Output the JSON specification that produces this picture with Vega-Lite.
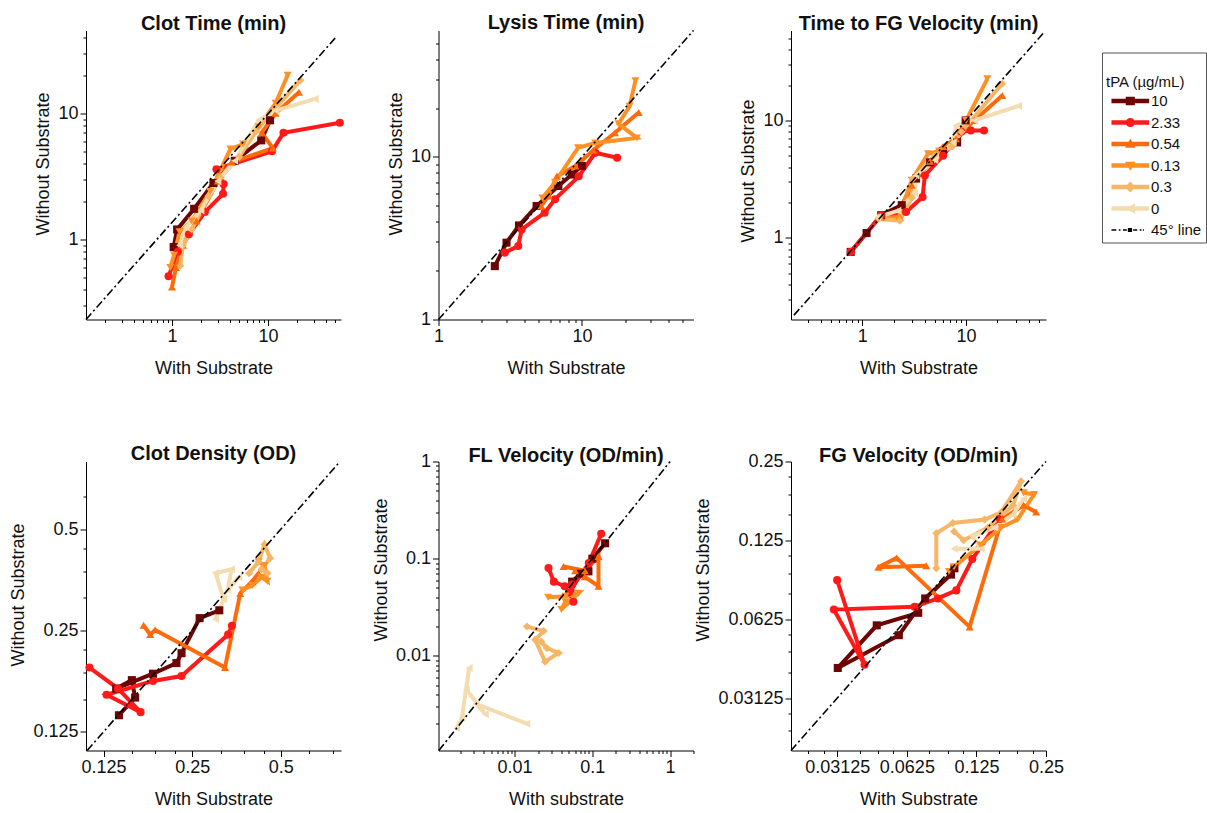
{
"$schema":"https://vega.github.io/schema/vega-lite/v6.json",
"padding":{"left":9,"top":12.5,"right":0,"bottom":2},
"datasets":{"d":[
{"p":1,"g":"10","i":0,"x":1.04,"y":0.87},{"p":1,"g":"10","i":1,"x":1.13,"y":1.2},{"p":1,"g":"10","i":2,"x":1.7,"y":1.75},{"p":1,"g":"10","i":3,"x":2.7,"y":2.8},{"p":1,"g":"10","i":4,"x":4.5,"y":4.2},{"p":1,"g":"10","i":5,"x":8.5,"y":6.1},{"p":1,"g":"10","i":6,"x":10.5,"y":8.8},
{"p":1,"g":"2.33","i":0,"x":0.92,"y":0.51},{"p":1,"g":"2.33","i":1,"x":1.15,"y":0.8},{"p":1,"g":"2.33","i":2,"x":1.5,"y":1.1},{"p":1,"g":"2.33","i":3,"x":2.2,"y":1.65},{"p":1,"g":"2.33","i":4,"x":3.4,"y":2.3},{"p":1,"g":"2.33","i":5,"x":3.45,"y":2.75},{"p":1,"g":"2.33","i":6,"x":2.9,"y":3.6},{"p":1,"g":"2.33","i":7,"x":11,"y":5.0},{"p":1,"g":"2.33","i":8,"x":14.5,"y":7.0},{"p":1,"g":"2.33","i":9,"x":56,"y":8.4},
{"p":1,"g":"0.54","i":0,"x":1.0,"y":0.42},{"p":1,"g":"0.54","i":1,"x":1.1,"y":0.6},{"p":1,"g":"0.54","i":2,"x":1.3,"y":0.9},{"p":1,"g":"0.54","i":3,"x":1.8,"y":1.4},{"p":1,"g":"0.54","i":4,"x":3.0,"y":2.9},{"p":1,"g":"0.54","i":5,"x":4.2,"y":4.1},{"p":1,"g":"0.54","i":6,"x":11.2,"y":5.3},{"p":1,"g":"0.54","i":7,"x":8.6,"y":7.0},{"p":1,"g":"0.54","i":8,"x":12,"y":10},{"p":1,"g":"0.54","i":9,"x":21,"y":14.7},
{"p":1,"g":"0.13","i":0,"x":0.96,"y":0.6},{"p":1,"g":"0.13","i":1,"x":1.05,"y":0.75},{"p":1,"g":"0.13","i":2,"x":1.2,"y":1.15},{"p":1,"g":"0.13","i":3,"x":1.6,"y":1.4},{"p":1,"g":"0.13","i":4,"x":2.5,"y":2.4},{"p":1,"g":"0.13","i":5,"x":4.05,"y":5.2},{"p":1,"g":"0.13","i":6,"x":5.5,"y":5.7},{"p":1,"g":"0.13","i":7,"x":8,"y":7.8},{"p":1,"g":"0.13","i":8,"x":12,"y":12},{"p":1,"g":"0.13","i":9,"x":16,"y":20},
{"p":1,"g":"0.3","i":0,"x":1.22,"y":0.62},{"p":1,"g":"0.3","i":1,"x":1.3,"y":0.9},{"p":1,"g":"0.3","i":2,"x":1.6,"y":1.2},{"p":1,"g":"0.3","i":3,"x":2.4,"y":2.2},{"p":1,"g":"0.3","i":4,"x":3.2,"y":3.1},{"p":1,"g":"0.3","i":5,"x":5,"y":4.5},{"p":1,"g":"0.3","i":6,"x":7.5,"y":7.2},{"p":1,"g":"0.3","i":7,"x":12,"y":11},{"p":1,"g":"0.3","i":8,"x":21.8,"y":18.3},
{"p":1,"g":"0","i":0,"x":1.2,"y":0.9},{"p":1,"g":"0","i":1,"x":1.4,"y":1.25},{"p":1,"g":"0","i":2,"x":2.0,"y":1.7},{"p":1,"g":"0","i":3,"x":3.0,"y":2.9},{"p":1,"g":"0","i":4,"x":4.5,"y":4.2},{"p":1,"g":"0","i":5,"x":8,"y":8.8},{"p":1,"g":"0","i":6,"x":12,"y":10.5},{"p":1,"g":"0","i":7,"x":31,"y":13},
{"p":1,"g":"45° line","i":0,"x":0.127,"y":0.232},{"p":1,"g":"45° line","i":1,"x":50,"y":39.4},
{"p":2,"g":"10","i":0,"x":2.47,"y":2.13},{"p":2,"g":"10","i":1,"x":2.98,"y":2.97},{"p":2,"g":"10","i":2,"x":3.64,"y":3.79},{"p":2,"g":"10","i":3,"x":4.83,"y":4.99},{"p":2,"g":"10","i":4,"x":6.85,"y":6.63},{"p":2,"g":"10","i":5,"x":8.5,"y":7.8},{"p":2,"g":"10","i":6,"x":10,"y":8.8},
{"p":2,"g":"2.33","i":0,"x":2.9,"y":2.58},{"p":2,"g":"2.33","i":1,"x":3.6,"y":2.83},{"p":2,"g":"2.33","i":2,"x":3.8,"y":3.58},{"p":2,"g":"2.33","i":3,"x":5.5,"y":4.54},{"p":2,"g":"2.33","i":4,"x":6.5,"y":5.5},{"p":2,"g":"2.33","i":5,"x":9.5,"y":7.6},{"p":2,"g":"2.33","i":6,"x":12.4,"y":10.6},{"p":2,"g":"2.33","i":7,"x":17.6,"y":9.9},
{"p":2,"g":"0.54","i":0,"x":5.2,"y":5.0},{"p":2,"g":"0.54","i":1,"x":5.84,"y":5.76},{"p":2,"g":"0.54","i":2,"x":6.7,"y":7.6},{"p":2,"g":"0.54","i":3,"x":9,"y":8.8},{"p":2,"g":"0.54","i":4,"x":12,"y":11},{"p":2,"g":"0.54","i":5,"x":17,"y":14.1},{"p":2,"g":"0.54","i":6,"x":24.9,"y":18.8},
{"p":2,"g":"0.13","i":0,"x":5.3,"y":5.6},{"p":2,"g":"0.13","i":1,"x":6.5,"y":7.0},{"p":2,"g":"0.13","i":2,"x":9.4,"y":11.4},{"p":2,"g":"0.13","i":3,"x":12.4,"y":12.2},{"p":2,"g":"0.13","i":4,"x":24.2,"y":13.1},{"p":2,"g":"0.13","i":5,"x":18,"y":16},{"p":2,"g":"0.13","i":6,"x":21.5,"y":20.5},{"p":2,"g":"0.13","i":7,"x":23.6,"y":29.4},
{"p":2,"g":"45° line","i":0,"x":1,"y":1},{"p":2,"g":"45° line","i":1,"x":60,"y":60},
{"p":3,"g":"10","i":0,"x":0.774,"y":0.76},{"p":3,"g":"10","i":1,"x":1.1,"y":1.1},{"p":3,"g":"10","i":2,"x":1.52,"y":1.56},{"p":3,"g":"10","i":3,"x":2.4,"y":1.9},{"p":3,"g":"10","i":4,"x":3.3,"y":3.2},{"p":3,"g":"10","i":5,"x":4.5,"y":4.4},{"p":3,"g":"10","i":6,"x":6,"y":5.5},{"p":3,"g":"10","i":7,"x":8.2,"y":6.5},{"p":3,"g":"10","i":8,"x":9.9,"y":10},
{"p":3,"g":"2.33","i":0,"x":0.774,"y":0.76},{"p":3,"g":"2.33","i":1,"x":1.52,"y":1.56},{"p":3,"g":"2.33","i":2,"x":2.64,"y":1.66},{"p":3,"g":"2.33","i":3,"x":3.81,"y":2.23},{"p":3,"g":"2.33","i":4,"x":4.01,"y":3.4},{"p":3,"g":"2.33","i":5,"x":6,"y":5},{"p":3,"g":"2.33","i":6,"x":9,"y":8},{"p":3,"g":"2.33","i":7,"x":11.1,"y":8.2},{"p":3,"g":"2.33","i":8,"x":14.9,"y":8.2},
{"p":3,"g":"0.54","i":0,"x":1.5,"y":1.5},{"p":3,"g":"0.54","i":1,"x":2.3,"y":1.5},{"p":3,"g":"0.54","i":2,"x":3,"y":2.8},{"p":3,"g":"0.54","i":3,"x":4.5,"y":4.5},{"p":3,"g":"0.54","i":4,"x":6,"y":6},{"p":3,"g":"0.54","i":5,"x":8,"y":7},{"p":3,"g":"0.54","i":6,"x":12,"y":10},{"p":3,"g":"0.54","i":7,"x":22.3,"y":16.3},
{"p":3,"g":"0.13","i":0,"x":1.5,"y":1.5},{"p":3,"g":"0.13","i":1,"x":2.2,"y":1.45},{"p":3,"g":"0.13","i":2,"x":3,"y":3.1},{"p":3,"g":"0.13","i":3,"x":4.3,"y":5.2},{"p":3,"g":"0.13","i":4,"x":5.5,"y":5.5},{"p":3,"g":"0.13","i":5,"x":7.5,"y":6},{"p":3,"g":"0.13","i":6,"x":10,"y":10},{"p":3,"g":"0.13","i":7,"x":16,"y":22.6},
{"p":3,"g":"0.3","i":0,"x":1.45,"y":1.45},{"p":3,"g":"0.3","i":1,"x":2.3,"y":1.4},{"p":3,"g":"0.3","i":2,"x":3,"y":2.2},{"p":3,"g":"0.3","i":3,"x":3.1,"y":3.2},{"p":3,"g":"0.3","i":4,"x":5,"y":5},{"p":3,"g":"0.3","i":5,"x":7.3,"y":6},{"p":3,"g":"0.3","i":6,"x":9,"y":8},{"p":3,"g":"0.3","i":7,"x":22.3,"y":20.5},
{"p":3,"g":"0","i":0,"x":1.4,"y":1.5},{"p":3,"g":"0","i":1,"x":2.2,"y":1.7},{"p":3,"g":"0","i":2,"x":3.2,"y":2.4},{"p":3,"g":"0","i":3,"x":3.3,"y":3.4},{"p":3,"g":"0","i":4,"x":5,"y":4.6},{"p":3,"g":"0","i":5,"x":7.5,"y":6.5},{"p":3,"g":"0","i":6,"x":8,"y":9},{"p":3,"g":"0","i":7,"x":12,"y":10},{"p":3,"g":"0","i":8,"x":32,"y":13.3},
{"p":3,"g":"45° line","i":0,"x":0.22,"y":0.22},{"p":3,"g":"45° line","i":1,"x":57,"y":57},
{"p":4,"g":"10","i":0,"x":0.141,"y":0.14},{"p":4,"g":"10","i":1,"x":0.16,"y":0.158},{"p":4,"g":"10","i":2,"x":0.156,"y":0.178},{"p":4,"g":"10","i":3,"x":0.138,"y":0.168},{"p":4,"g":"10","i":4,"x":0.184,"y":0.186},{"p":4,"g":"10","i":5,"x":0.221,"y":0.2},{"p":4,"g":"10","i":6,"x":0.23,"y":0.214},{"p":4,"g":"10","i":7,"x":0.265,"y":0.272},{"p":4,"g":"10","i":8,"x":0.309,"y":0.287},
{"p":4,"g":"2.33","i":0,"x":0.341,"y":0.258},{"p":4,"g":"2.33","i":1,"x":0.331,"y":0.243},{"p":4,"g":"2.33","i":2,"x":0.23,"y":0.183},{"p":4,"g":"2.33","i":3,"x":0.184,"y":0.177},{"p":4,"g":"2.33","i":4,"x":0.128,"y":0.161},{"p":4,"g":"2.33","i":5,"x":0.167,"y":0.143},{"p":4,"g":"2.33","i":6,"x":0.14,"y":0.168},{"p":4,"g":"2.33","i":7,"x":0.112,"y":0.194},
{"p":4,"g":"0.54","i":0,"x":0.171,"y":0.259},{"p":4,"g":"0.54","i":1,"x":0.18,"y":0.243},{"p":4,"g":"0.54","i":2,"x":0.187,"y":0.251},{"p":4,"g":"0.54","i":3,"x":0.323,"y":0.194},{"p":4,"g":"0.54","i":4,"x":0.364,"y":0.322},{"p":4,"g":"0.54","i":5,"x":0.4,"y":0.35},{"p":4,"g":"0.54","i":6,"x":0.42,"y":0.37},
{"p":4,"g":"0.13","i":0,"x":0.37,"y":0.33},{"p":4,"g":"0.13","i":1,"x":0.4,"y":0.34},{"p":4,"g":"0.13","i":2,"x":0.43,"y":0.36},{"p":4,"g":"0.13","i":3,"x":0.45,"y":0.35},{"p":4,"g":"0.13","i":4,"x":0.44,"y":0.39},{"p":4,"g":"0.13","i":5,"x":0.42,"y":0.4},
{"p":4,"g":"0.3","i":0,"x":0.39,"y":0.37},{"p":4,"g":"0.3","i":1,"x":0.42,"y":0.4},{"p":4,"g":"0.3","i":2,"x":0.44,"y":0.45},{"p":4,"g":"0.3","i":3,"x":0.46,"y":0.41},{"p":4,"g":"0.3","i":4,"x":0.43,"y":0.38},{"p":4,"g":"0.3","i":5,"x":0.45,"y":0.37},
{"p":4,"g":"0","i":0,"x":0.3,"y":0.27},{"p":4,"g":"0","i":1,"x":0.32,"y":0.31},{"p":4,"g":"0","i":2,"x":0.3,"y":0.37},{"p":4,"g":"0","i":3,"x":0.34,"y":0.38},{"p":4,"g":"0","i":4,"x":0.33,"y":0.33},{"p":4,"g":"0","i":5,"x":0.36,"y":0.36},
{"p":4,"g":"45° line","i":0,"x":0.11,"y":0.11},{"p":4,"g":"45° line","i":1,"x":0.794,"y":0.794},
{"p":5,"g":"10","i":0,"x":0.055,"y":0.058},{"p":5,"g":"10","i":1,"x":0.07,"y":0.07},{"p":5,"g":"10","i":2,"x":0.089,"y":0.074},{"p":5,"g":"10","i":3,"x":0.1,"y":0.1},{"p":5,"g":"10","i":4,"x":0.146,"y":0.144},
{"p":5,"g":"2.33","i":0,"x":0.0273,"y":0.08},{"p":5,"g":"2.33","i":1,"x":0.032,"y":0.058},{"p":5,"g":"2.33","i":2,"x":0.044,"y":0.052},{"p":5,"g":"2.33","i":3,"x":0.055,"y":0.054},{"p":5,"g":"2.33","i":4,"x":0.057,"y":0.036},{"p":5,"g":"2.33","i":5,"x":0.05,"y":0.045},{"p":5,"g":"2.33","i":6,"x":0.09,"y":0.09},{"p":5,"g":"2.33","i":7,"x":0.13,"y":0.18},
{"p":5,"g":"0.54","i":0,"x":0.0426,"y":0.083},{"p":5,"g":"0.54","i":1,"x":0.08,"y":0.075},{"p":5,"g":"0.54","i":2,"x":0.12,"y":0.105},{"p":5,"g":"0.54","i":3,"x":0.12,"y":0.052},{"p":5,"g":"0.54","i":4,"x":0.08,"y":0.065},{"p":5,"g":"0.54","i":5,"x":0.06,"y":0.075},
{"p":5,"g":"0.13","i":0,"x":0.027,"y":0.04},{"p":5,"g":"0.13","i":1,"x":0.045,"y":0.041},{"p":5,"g":"0.13","i":2,"x":0.066,"y":0.044},{"p":5,"g":"0.13","i":3,"x":0.04,"y":0.03},{"p":5,"g":"0.13","i":4,"x":0.045,"y":0.036},
{"p":5,"g":"0.3","i":0,"x":0.0144,"y":0.02},{"p":5,"g":"0.3","i":1,"x":0.0236,"y":0.018},{"p":5,"g":"0.3","i":2,"x":0.0184,"y":0.0146},{"p":5,"g":"0.3","i":3,"x":0.0247,"y":0.0087},{"p":5,"g":"0.3","i":4,"x":0.0368,"y":0.0107},{"p":5,"g":"0.3","i":5,"x":0.026,"y":0.012},{"p":5,"g":"0.3","i":6,"x":0.022,"y":0.014},
{"p":5,"g":"0","i":0,"x":0.0018,"y":0.0018},{"p":5,"g":"0","i":1,"x":0.0021,"y":0.0023},{"p":5,"g":"0","i":2,"x":0.0026,"y":0.0075},{"p":5,"g":"0","i":3,"x":0.0024,"y":0.0045},{"p":5,"g":"0","i":4,"x":0.0042,"y":0.0025},{"p":5,"g":"0","i":5,"x":0.0032,"y":0.0032},{"p":5,"g":"0","i":6,"x":0.0144,"y":0.002},
{"p":5,"g":"45° line","i":0,"x":0.00106,"y":0.00106},{"p":5,"g":"45° line","i":1,"x":1,"y":1},
{"p":6,"g":"10","i":0,"x":0.07,"y":0.0661},{"p":6,"g":"10","i":1,"x":0.0463,"y":0.0592},{"p":6,"g":"10","i":2,"x":0.0314,"y":0.0407},{"p":6,"g":"10","i":3,"x":0.0577,"y":0.0543},{"p":6,"g":"10","i":4,"x":0.075,"y":0.075},{"p":6,"g":"10","i":5,"x":0.097,"y":0.0925},{"p":6,"g":"10","i":6,"x":0.1004,"y":0.0978},
{"p":6,"g":"2.33","i":0,"x":0.0312,"y":0.0881},{"p":6,"g":"2.33","i":1,"x":0.041,"y":0.0419},{"p":6,"g":"2.33","i":2,"x":0.0302,"y":0.068},{"p":6,"g":"2.33","i":3,"x":0.0675,"y":0.0697},{"p":6,"g":"2.33","i":4,"x":0.085,"y":0.075},{"p":6,"g":"2.33","i":5,"x":0.1023,"y":0.0805},{"p":6,"g":"2.33","i":6,"x":0.12,"y":0.106},{"p":6,"g":"2.33","i":7,"x":0.158,"y":0.151},
{"p":6,"g":"0.54","i":0,"x":0.0758,"y":0.0999},{"p":6,"g":"0.54","i":1,"x":0.047,"y":0.0986},{"p":6,"g":"0.54","i":2,"x":0.0564,"y":0.1071},{"p":6,"g":"0.54","i":3,"x":0.1168,"y":0.0584},{"p":6,"g":"0.54","i":4,"x":0.1613,"y":0.1509},{"p":6,"g":"0.54","i":5,"x":0.2,"y":0.17},{"p":6,"g":"0.54","i":6,"x":0.2268,"y":0.1602},
{"p":6,"g":"0.13","i":0,"x":0.095,"y":0.095},{"p":6,"g":"0.13","i":1,"x":0.1,"y":0.099},{"p":6,"g":"0.13","i":2,"x":0.13,"y":0.12},{"p":6,"g":"0.13","i":3,"x":0.16,"y":0.14},{"p":6,"g":"0.13","i":4,"x":0.188,"y":0.15},{"p":6,"g":"0.13","i":5,"x":0.222,"y":0.187},{"p":6,"g":"0.13","i":6,"x":0.2,"y":0.19},
{"p":6,"g":"0.3","i":0,"x":0.0838,"y":0.0977},{"p":6,"g":"0.3","i":1,"x":0.0838,"y":0.133},{"p":6,"g":"0.3","i":2,"x":0.0988,"y":0.1457},{"p":6,"g":"0.3","i":3,"x":0.1357,"y":0.15},{"p":6,"g":"0.3","i":4,"x":0.16,"y":0.16},{"p":6,"g":"0.3","i":5,"x":0.195,"y":0.21},{"p":6,"g":"0.3","i":6,"x":0.18,"y":0.17},{"p":6,"g":"0.3","i":7,"x":0.14,"y":0.14},{"p":6,"g":"0.3","i":8,"x":0.11,"y":0.125},{"p":6,"g":"0.3","i":9,"x":0.1,"y":0.135},
{"p":6,"g":"0","i":0,"x":0.1,"y":0.116},{"p":6,"g":"0","i":1,"x":0.131,"y":0.116},{"p":6,"g":"0","i":2,"x":0.12,"y":0.13},{"p":6,"g":"0","i":3,"x":0.15,"y":0.14},{"p":6,"g":"0","i":4,"x":0.18,"y":0.157},{"p":6,"g":"0","i":5,"x":0.2,"y":0.18},
{"p":6,"g":"45° line","i":0,"x":0.0197,"y":0.0197},{"p":6,"g":"45° line","i":1,"x":0.25,"y":0.25}
]},
"data":{"name":"d"},
"bounds":"flush",
"columns":3,
"spacing":{"row":142,"column":97.5},
"concat":[
{"width":255,"height":289,"title":"Clot Time (min)","transform":[{"filter":"datum.p==1"}],
"encoding":{
"x":{"field":"x","type":"quantitative","scale":{"type":"log","domain":[0.127,57.6],"nice":false},"axis":{"title":"With Substrate","values":[0.2,0.3,0.4,0.5,0.6,0.7,0.8,0.9,1,2,3,4,5,6,7,8,9,10,20,30,40,50],"labelExpr":"indexof([1,10],datum.value)>=0?''+datum.value:''","tickSize":{"condition":{"test":"indexof([1,10],datum.value)>=0","value":6},"value":3}}},
"y":{"field":"y","type":"quantitative","scale":{"type":"log","domain":[0.232,45.3],"nice":false},"axis":{"title":"Without Substrate","titleY":133,"values":[0.3,0.4,0.5,0.6,0.7,0.8,0.9,1,2,3,4,5,6,7,8,9,10,20,30,40],"labelExpr":"indexof([1,10],datum.value)>=0?''+datum.value:''","tickSize":{"condition":{"test":"indexof([1,10],datum.value)>=0","value":6},"value":3}}}},
"layer":[
{"transform":[{"filter":"datum.g!='45° line'"}],"mark":{"type":"line","strokeWidth":4},"encoding":{"color":{"field":"g","type":"nominal","scale":{"domain":["10","2.33","0.54","0.13","0.3","0","45° line"],"range":["#6E0505","#FF1A1A","#FF6A0A","#FF9124","#F7B666","#F3DDB0","#000000"]},
"legend":{"title":["","\u00a0tPA (µg/mL)"],"orient":"none","legendX":1016,"legendY":22,"direction":"vertical","strokeColor":"#555","fillColor":"white","padding":4,"cornerRadius":0,"titleFont":"Liberation Sans","titleFontSize":15,"titleFontWeight":"normal","titleColor":"#111","titleLineHeight":18,"titlePadding":4,"labelFont":"Liberation Sans","labelFontSize":15,"labelColor":"#111","symbolSize":196,"labelOffset":30,"rowPadding":5.5,"symbolStrokeWidth":0,
"encode":{"symbols":{"update":{"shape":{"signal":"datum.value==='10'?'M-0.29,-0.33H5.09V0.33H-0.29Z M1.75,-0.62H3.05V0.62H1.75Z':datum.value==='2.33'?'M-0.29,-0.33H5.09V0.33H-0.29Z M1.75,0A0.65,0.65,0,1,1,3.05,0A0.65,0.65,0,1,1,1.75,0Z':datum.value==='0.54'?'M-0.29,-0.33H5.09V0.33H-0.29Z M2.4,-0.75L3.15,0.55L1.65,0.55Z':datum.value==='0.13'?'M-0.29,-0.33H5.09V0.33H-0.29Z M1.65,-0.55L3.15,-0.55L2.4,0.75Z':datum.value==='0.3'?'M-0.29,-0.33H5.09V0.33H-0.29Z M2.4,-0.8L3.15,0L2.4,0.8L1.65,0Z':datum.value==='0'?'M-0.29,-0.33H5.09V0.33H-0.29Z M1.6,0L3.1,-0.75L3.1,0.75Z':'M-0.29,-0.1H0.4V0.1H-0.29Z M0.75,-0.1H1V0.1H0.75Z M1.35,-0.1H1.9V0.1H1.35Z M2.05,-0.3H2.65V0.3H2.05Z M2.8,-0.1H3.4V0.1H2.8Z M3.75,-0.1H4V0.1H3.75Z M4.2,-0.1H4.35V0.1H4.2Z'"},"fill":{"signal":"scale('color', datum.value)"},"stroke":{"value":"transparent"},"strokeWidth":{"value":0},"opacity":{"value":1},"size":{"value":196}}}}}},
"order":{"field":"i","type":"quantitative"}}},
{"transform":[{"filter":"datum.g!='45° line'"}],"mark":{"type":"point","filled":true,"size":65,"opacity":1},"encoding":{"color":{"field":"g","type":"nominal","legend":null},"shape":{"field":"g","type":"nominal","scale":{"domain":["10","2.33","0.54","0.13","0.3","0"],"range":["square","circle","triangle-up","triangle-down","diamond","triangle-left"]},"legend":null}}},
{"transform":[{"filter":"datum.g=='45° line'"}],"mark":{"type":"line","color":"black","strokeWidth":1.6,"strokeDash":[8,3,2,3]},"encoding":{"order":{"field":"i","type":"quantitative"}}}
]},
{"width":255,"height":289,"title":"Lysis Time (min)","transform":[{"filter":"datum.p==2"}],
"encoding":{
"x":{"field":"x","type":"quantitative","scale":{"type":"log","domain":[1,60],"nice":false},"axis":{"title":"With Substrate","values":[1,2,3,4,5,6,7,8,9,10,20,30,40,50],"labelExpr":"indexof([1,10],datum.value)>=0?''+datum.value:''","tickSize":{"condition":{"test":"indexof([1,10],datum.value)>=0","value":6},"value":3}}},
"y":{"field":"y","type":"quantitative","scale":{"type":"log","domain":[1,60],"nice":false},"axis":{"title":"Without Substrate","titleY":133,"values":[1,2,3,4,5,6,7,8,9,10,20,30,40,50],"labelExpr":"indexof([1,10],datum.value)>=0?''+datum.value:''","tickSize":{"condition":{"test":"indexof([1,10],datum.value)>=0","value":6},"value":3}}}},
"layer":[
{"transform":[{"filter":"datum.g!='45° line'"}],"mark":{"type":"line","strokeWidth":4},"encoding":{"color":{"field":"g","type":"nominal","legend":null},"order":{"field":"i","type":"quantitative"}}},
{"transform":[{"filter":"datum.g!='45° line'"}],"mark":{"type":"point","filled":true,"size":65,"opacity":1},"encoding":{"color":{"field":"g","type":"nominal","legend":null},"shape":{"field":"g","type":"nominal","legend":null}}},
{"transform":[{"filter":"datum.g=='45° line'"}],"mark":{"type":"line","color":"black","strokeWidth":1.6,"strokeDash":[8,3,2,3]},"encoding":{"order":{"field":"i","type":"quantitative"}}}
]},
{"width":255,"height":289,"title":"Time to FG Velocity (min)","transform":[{"filter":"datum.p==3"}],
"encoding":{
"x":{"field":"x","type":"quantitative","scale":{"type":"log","domain":[0.206,58.8],"nice":false},"axis":{"title":"With Substrate","values":[0.3,0.4,0.5,0.6,0.7,0.8,0.9,1,2,3,4,5,6,7,8,9,10,20,30,40,50],"labelExpr":"indexof([1,10],datum.value)>=0?''+datum.value:''","tickSize":{"condition":{"test":"indexof([1,10],datum.value)>=0","value":6},"value":3}}},
"y":{"field":"y","type":"quantitative","scale":{"type":"log","domain":[0.202,58.3],"nice":false},"axis":{"title":"Without Substrate","titleY":140,"values":[0.3,0.4,0.5,0.6,0.7,0.8,0.9,1,2,3,4,5,6,7,8,9,10,20,30,40,50],"labelExpr":"indexof([1,10],datum.value)>=0?''+datum.value:''","tickSize":{"condition":{"test":"indexof([1,10],datum.value)>=0","value":6},"value":3}}}},
"layer":[
{"transform":[{"filter":"datum.g!='45° line'"}],"mark":{"type":"line","strokeWidth":4},"encoding":{"color":{"field":"g","type":"nominal","legend":null},"order":{"field":"i","type":"quantitative"}}},
{"transform":[{"filter":"datum.g!='45° line'"}],"mark":{"type":"point","filled":true,"size":65,"opacity":1},"encoding":{"color":{"field":"g","type":"nominal","legend":null},"shape":{"field":"g","type":"nominal","legend":null}}},
{"transform":[{"filter":"datum.g=='45° line'"}],"mark":{"type":"line","color":"black","strokeWidth":1.6,"strokeDash":[8,3,2,3]},"encoding":{"order":{"field":"i","type":"quantitative"}}}
]},
{"width":255,"height":289,"title":"Clot Density (OD)","transform":[{"filter":"datum.p==4"}],
"encoding":{
"x":{"field":"x","type":"quantitative","scale":{"type":"log","domain":[0.109,0.8],"nice":false},"axis":{"title":"With Substrate","values":[0.125,0.15625,0.1875,0.21875,0.25,0.3125,0.375,0.4375,0.5,0.625,0.75],"labelExpr":"indexof([0.125,0.25,0.5],datum.value)>=0?''+datum.value:''","tickSize":{"condition":{"test":"indexof([0.125,0.25,0.5],datum.value)>=0","value":6},"value":3}}},
"y":{"field":"y","type":"quantitative","scale":{"type":"log","domain":[0.11,0.794],"nice":false},"axis":{"title":"Without Substrate","titleY":133,"values":[0.125,0.15625,0.1875,0.21875,0.25,0.3125,0.375,0.4375,0.5,0.625],"labelExpr":"indexof([0.125,0.25,0.5],datum.value)>=0?''+datum.value:''","tickSize":{"condition":{"test":"indexof([0.125,0.25,0.5],datum.value)>=0","value":6},"value":3}}}},
"layer":[
{"transform":[{"filter":"datum.g!='45° line'"}],"mark":{"type":"line","strokeWidth":4},"encoding":{"color":{"field":"g","type":"nominal","legend":null},"order":{"field":"i","type":"quantitative"}}},
{"transform":[{"filter":"datum.g!='45° line'"}],"mark":{"type":"point","filled":true,"size":65,"opacity":1},"encoding":{"color":{"field":"g","type":"nominal","legend":null},"shape":{"field":"g","type":"nominal","legend":null}}},
{"transform":[{"filter":"datum.g=='45° line'"}],"mark":{"type":"line","color":"black","strokeWidth":1.6,"strokeDash":[8,3,2,3]},"encoding":{"order":{"field":"i","type":"quantitative"}}}
]},
{"width":255,"height":289,"title":{"text":"FL Velocity (OD/min)","offset":-13},"transform":[{"filter":"datum.p==5"}],
"encoding":{
"x":{"field":"x","type":"quantitative","scale":{"type":"log","domain":[0.00105,2],"nice":false},"axis":{"title":"With substrate","values":[0.002,0.003,0.004,0.005,0.006,0.007,0.008,0.009,0.01,0.02,0.03,0.04,0.05,0.06,0.07,0.08,0.09,0.1,0.2,0.3,0.4,0.5,0.6,0.7,0.8,0.9,1,2],"labelExpr":"indexof([0.01,0.1,1],datum.value)>=0?''+datum.value:''","tickSize":{"condition":{"test":"indexof([0.01,0.1,1],datum.value)>=0","value":6},"value":3}}},
"y":{"field":"y","type":"quantitative","scale":{"type":"log","domain":[0.00106,1],"nice":false},"axis":{"title":"Without Substrate","titleY":108,"values":[0.002,0.003,0.004,0.005,0.006,0.007,0.008,0.009,0.01,0.02,0.03,0.04,0.05,0.06,0.07,0.08,0.09,0.1,0.2,0.3,0.4,0.5,0.6,0.7,0.8,0.9,1],"labelExpr":"indexof([0.01,0.1,1],datum.value)>=0?''+datum.value:''","tickSize":{"condition":{"test":"indexof([0.01,0.1,1],datum.value)>=0","value":6},"value":3}}}},
"layer":[
{"transform":[{"filter":"datum.g!='45° line'"}],"mark":{"type":"line","strokeWidth":4},"encoding":{"color":{"field":"g","type":"nominal","legend":null},"order":{"field":"i","type":"quantitative"}}},
{"transform":[{"filter":"datum.g!='45° line'"}],"mark":{"type":"point","filled":true,"size":65,"opacity":1},"encoding":{"color":{"field":"g","type":"nominal","legend":null},"shape":{"field":"g","type":"nominal","legend":null}}},
{"transform":[{"filter":"datum.g=='45° line'"}],"mark":{"type":"line","color":"black","strokeWidth":1.6,"strokeDash":[8,3,2,3]},"encoding":{"order":{"field":"i","type":"quantitative"}}}
]},
{"width":255,"height":289,"title":{"text":"FG Velocity (OD/min)","offset":-13},"transform":[{"filter":"datum.p==6"}],
"encoding":{
"x":{"field":"x","type":"quantitative","scale":{"type":"log","domain":[0.0197,0.25],"nice":false},"axis":{"title":"With Substrate","values":[0.0234375,0.02734375,0.03125,0.0390625,0.046875,0.0546875,0.0625,0.078125,0.09375,0.109375,0.125,0.15625,0.1875,0.21875,0.25],"labelExpr":"indexof([0.03125,0.0625,0.125,0.25],datum.value)>=0?''+datum.value:''","tickSize":{"condition":{"test":"indexof([0.03125,0.0625,0.125,0.25],datum.value)>=0","value":6},"value":3}}},
"y":{"field":"y","type":"quantitative","scale":{"type":"log","domain":[0.0197,0.25],"nice":false},"axis":{"title":"Without Substrate","titleY":108,"values":[0.0234375,0.02734375,0.03125,0.0390625,0.046875,0.0546875,0.0625,0.078125,0.09375,0.109375,0.125,0.15625,0.1875,0.21875,0.25],"labelExpr":"indexof([0.03125,0.0625,0.125,0.25],datum.value)>=0?''+datum.value:''","tickSize":{"condition":{"test":"indexof([0.03125,0.0625,0.125,0.25],datum.value)>=0","value":6},"value":3}}}},
"layer":[
{"transform":[{"filter":"datum.g!='45° line'"}],"mark":{"type":"line","strokeWidth":4},"encoding":{"color":{"field":"g","type":"nominal","legend":null},"order":{"field":"i","type":"quantitative"}}},
{"transform":[{"filter":"datum.g!='45° line'"}],"mark":{"type":"point","filled":true,"size":65,"opacity":1},"encoding":{"color":{"field":"g","type":"nominal","legend":null},"shape":{"field":"g","type":"nominal","legend":null}}},
{"transform":[{"filter":"datum.g=='45° line'"}],"mark":{"type":"line","color":"black","strokeWidth":1.6,"strokeDash":[8,3,2,3]},"encoding":{"order":{"field":"i","type":"quantitative"}}}
]}
],
"config":{
"view":{"stroke":null},
"axis":{"grid":false,"domainColor":"#000","domainWidth":1,"tickColor":"#000","labelFont":"Liberation Sans","labelFontSize":18,"labelColor":"#111","titleFont":"Liberation Sans","titleFontSize":18,"titleFontWeight":"normal","titleColor":"#111","labelFlush":false,"labelOverlap":false,"labelPadding":2},
"axisX":{"titlePadding":14},
"axisY":{"titlePadding":5},
"title":{"font":"Liberation Sans","fontSize":20,"fontWeight":"bold","color":"#111","offset":-5.5,"frame":"group","anchor":"middle"}
}
}
